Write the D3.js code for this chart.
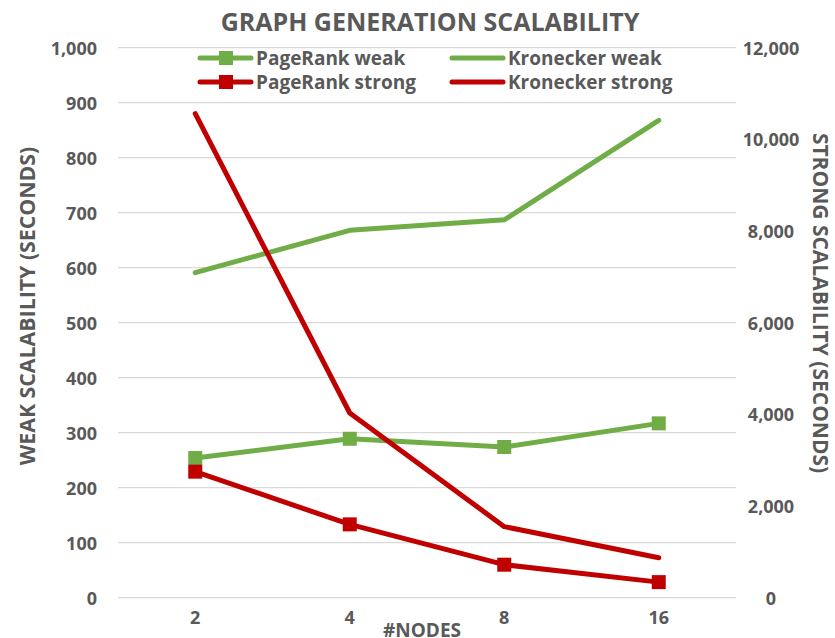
<!DOCTYPE html>
<html>
<head>
<meta charset="utf-8">
<script src="https://cdn.jsdelivr.net/npm/d3@7"></script>
<style>
  body { margin: 0; background: #fff; }
  text { font-family: "Open Sans", sans-serif; font-weight: bold; fill: #595959; }
</style>
</head>
<body>
<svg id="chart" width="835" height="638"></svg>
<script>
// data
var nodes = ["2", "4", "8", "16"]
var pagerankWeak = [254, 289, 274, 317]
var kroneckerWeak = [591, 668, 687, 868]
var pagerankStrong = [2750, 1600, 720, 340]
var kroneckerStrong = [10560, 4030, 1550, 870]
var leftTicks = [0, 100, 200, 300, 400, 500, 600, 700, 800, 900, 1000]
var rightTicks = [0, 2000, 4000, 6000, 8000, 10000, 12000]

var green = "#70AD47", red = "#C00000"

var svg = d3.select("#chart")
var plotLeft = 118, plotRight = 736, plotTop = 47.7, plotBottom = 597.7

var x = d3.scaleBand().domain(nodes).range([plotLeft, plotRight])
var yWeak = d3.scaleLinear().domain([0, 1000]).range([plotBottom, plotTop])
var yStrong = d3.scaleLinear().domain([0, 12000]).range([plotBottom, plotTop])
var fmt = d3.format(",")

// gridlines
svg.append("g")
    .selectAll("line")
    .data(leftTicks)
    .enter()
    .append("line")
    .attr("x1", plotLeft)
    .attr("x2", plotRight)
    .attr("y1", d => yWeak(d))
    .attr("y2", d => yWeak(d))
    .style("stroke", "#d9d9d9")
    .style("stroke-width", 1.3)

// left axis
var leftAxis = svg.append("g")
    .attr("transform", "translate(97,0)")
    .call(d3.axisLeft(yWeak).tickValues(leftTicks).tickFormat(fmt).tickSize(0).tickPadding(0))
leftAxis.select(".domain").remove()
leftAxis.selectAll("text").style("font-size", "18px").attr("dy", "0.35em")

// right axis
var rightAxis = svg.append("g")
    .attr("transform", "translate(771,0)")
    .call(d3.axisRight(yStrong).tickValues(rightTicks).tickFormat(fmt).tickSize(0).tickPadding(0))
rightAxis.select(".domain").remove()
rightAxis.selectAll("text").style("font-size", "18px").attr("text-anchor", "middle").attr("dy", "0.35em")

// bottom axis
var bottomAxis = svg.append("g")
    .attr("transform", "translate(0," + plotBottom + ")")
    .call(d3.axisBottom(x).tickSize(0).tickPadding(14))
bottomAxis.select(".domain").remove()
bottomAxis.selectAll("text").style("font-size", "18px")

// titles
svg.append("text")
    .attr("x", 430).attr("y", 31)
    .attr("text-anchor", "middle")
    .style("font-size", "25px")
    .text("GRAPH GENERATION SCALABILITY")

svg.append("text")
    .attr("x", 422).attr("y", 637)
    .attr("text-anchor", "middle")
    .style("font-size", "19px")
    .text("#NODES")

svg.append("text")
    .attr("transform", "translate(35,306) rotate(-90)")
    .attr("text-anchor", "middle")
    .style("font-size", "21.3px")
    .text("WEAK SCALABILITY (SECONDS)")

svg.append("text")
    .attr("transform", "translate(813,303) rotate(90)")
    .attr("text-anchor", "middle")
    .style("font-size", "21px")
    .text("STRONG SCALABILITY (SECONDS)")

// series
var series = [
    { name: "PageRank weak", values: pagerankWeak, y: yWeak, color: green, marker: true },
    { name: "Kronecker weak", values: kroneckerWeak, y: yWeak, color: green, marker: false },
    { name: "PageRank strong", values: pagerankStrong, y: yStrong, color: red, marker: true },
    { name: "Kronecker strong", values: kroneckerStrong, y: yStrong, color: red, marker: false }
]

var drawOrder = [series[0], series[1], series[3], series[2]]

drawOrder.forEach(function (s) {
    var line = d3.line()
        .x((d, i) => x(nodes[i]) + x.bandwidth() / 2)
        .y(d => s.y(d))

    svg.append("path")
        .datum(s.values)
        .attr("d", line)
        .style("fill", "none")
        .style("stroke", s.color)
        .style("stroke-width", 5)
        .style("stroke-linejoin", "round")
        .style("stroke-linecap", "round")

    if (s.marker) {
        svg.append("g")
            .selectAll("rect")
            .data(s.values)
            .enter()
            .append("rect")
            .attr("x", (d, i) => x(nodes[i]) + x.bandwidth() / 2 - 7)
            .attr("y", d => s.y(d) - 7)
            .attr("width", 14)
            .attr("height", 14)
            .style("fill", s.color)
    }
})

// legend
var legendPos = [[200, 58], [452, 58], [200, 82], [452, 82]]
series.forEach(function (s, i) {
    var g = svg.append("g").attr("transform", "translate(" + legendPos[i][0] + "," + legendPos[i][1] + ")")
    g.append("line")
        .attr("x1", 0).attr("x2", 51)
        .style("stroke", s.color)
        .style("stroke-width", 5)
        .style("stroke-linecap", "round")
    if (s.marker) {
        g.append("rect")
            .attr("x", 19).attr("y", -7)
            .attr("width", 14).attr("height", 14)
            .style("fill", s.color)
    }
    g.append("text")
        .attr("x", 56).attr("dy", "0.35em")
        .style("font-size", "19px")
        .text(s.name)
})
</script>
</body>
</html>
